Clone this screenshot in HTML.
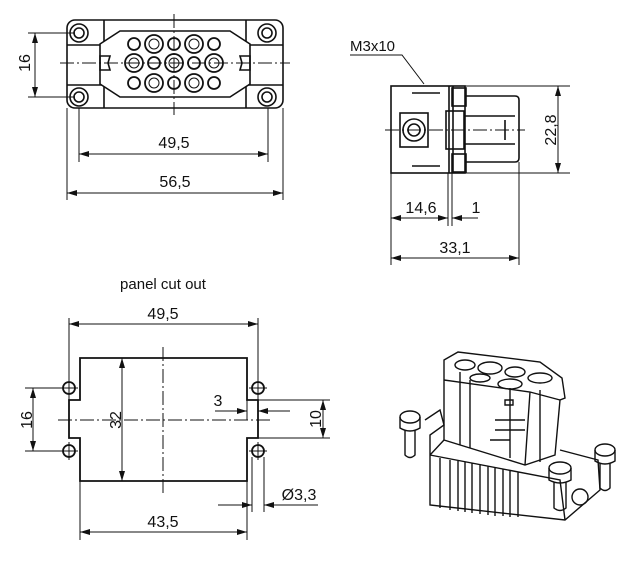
<!DOCTYPE html>
<html><head><meta charset="utf-8"><style>
html,body{margin:0;padding:0;background:#fff;}
svg{display:block;}
text{font-family:"Liberation Sans","DejaVu Sans",sans-serif;fill:#111;}
</style></head><body>
<svg width="628" height="574" viewBox="0 0 628 574" xmlns="http://www.w3.org/2000/svg">
<defs>
<marker id="a" viewBox="0 0 10 6" refX="10" refY="3" markerWidth="10" markerHeight="6" orient="auto-start-reverse" markerUnits="userSpaceOnUse"><path d="M0,0 L10,3 L0,6z" fill="#111"/></marker>
</defs>
<g stroke="#111" fill="none">
<!-- ===== Front view ===== -->
<g stroke-width="1.6">
<rect x="67" y="20" width="216" height="88" rx="8"/>
<path d="M67,45 H283 M67,85 H283 M104,20 V45 M246,20 V45 M104,85 V108 M246,85 V108"/>
<circle cx="79" cy="33" r="9"/><circle cx="267" cy="33" r="9"/>
<circle cx="79" cy="97" r="9"/><circle cx="267" cy="97" r="9"/>
<circle cx="79" cy="33" r="5"/><circle cx="267" cy="33" r="5"/>
<circle cx="79" cy="97" r="5"/><circle cx="267" cy="97" r="5"/>
<path d="M100,44 L120,31 H230 L250,44 V84 L230,97 H120 L100,84 Z" fill="#fff"/>
<path d="M100,56 H110 L108,63 L110,70 H100 Z M250,56 H240 L242,63 L240,70 H250 Z"/>
</g>
<g stroke-width="1.8">
<circle cx="134" cy="44" r="6"/><circle cx="154" cy="44" r="9"/><circle cx="174" cy="44" r="6"/><circle cx="194" cy="44" r="9"/><circle cx="214" cy="44" r="6"/>
<circle cx="134" cy="63" r="9"/><circle cx="154" cy="63" r="6"/><circle cx="174" cy="63" r="9"/><circle cx="194" cy="63" r="6"/><circle cx="214" cy="63" r="9"/>
<circle cx="134" cy="83" r="6"/><circle cx="154" cy="83" r="9"/><circle cx="174" cy="83" r="6"/><circle cx="194" cy="83" r="9"/><circle cx="214" cy="83" r="6"/>
</g>
<g stroke-width="1">
<circle cx="154" cy="44" r="5"/><circle cx="194" cy="44" r="5"/><circle cx="134" cy="63" r="5"/><circle cx="174" cy="63" r="5"/><circle cx="214" cy="63" r="5"/><circle cx="154" cy="83" r="5"/><circle cx="194" cy="83" r="5"/>
<path d="M174,14 V115" stroke-dasharray="14,3,2,3"/>
<path d="M60,63 H290" stroke-dasharray="14,3,2,3"/>
<path d="M28,33 H75 M28,97 H75"/>
<path d="M35,33 V97" marker-start="url(#a)" marker-end="url(#a)"/>
<path d="M79,108 V162 M268,108 V162 M67,108 V200 M283,108 V200"/>
<path d="M79,154 H268" marker-start="url(#a)" marker-end="url(#a)"/>
<path d="M67,193 H283" marker-start="url(#a)" marker-end="url(#a)"/>
</g>
<!-- ===== Side view ===== -->
<g stroke-width="1.6">
<rect x="391" y="86" width="74" height="87"/>
<path d="M465,96 H515 Q519,96 519,100 V158 Q519,162 515,162 H465"/>
<path d="M449,86 V173 M453,86 V173"/>
<rect x="400" y="113" width="28" height="34"/>
<circle cx="414" cy="130" r="11"/>
<circle cx="414" cy="130" r="6"/>
<rect x="446" y="111" width="18" height="38"/>
<path d="M412,93 H440 M412,166 H440 M465,116 H515 M465,144 H515 M505,120 V140"/>
<rect x="452" y="88" width="14" height="18"/><rect x="452" y="154" width="14" height="18"/>
</g>
<g stroke-width="1">
<path d="M385,130 H525" stroke-dasharray="14,3,2,3"/>
<path d="M350,55 H402 L424,84"/>
<path d="M465,86 H570 M465,173 H570"/>
<path d="M558,86 V173" marker-start="url(#a)" marker-end="url(#a)"/>
<path d="M391,173 V265 M519,162 V265 M448,173 V226 M452,173 V226"/>
<path d="M391,218 H448" marker-start="url(#a)" marker-end="url(#a)"/>
<path d="M452,218 H478" marker-start="url(#a)"/>
<path d="M391,258 H519" marker-start="url(#a)" marker-end="url(#a)"/>
</g>
<!-- ===== Panel cutout ===== -->
<path stroke-width="1.8" d="M80,358 H247 V400 H258 V438 H247 V481 H80 V438 H69 V400 H80 Z"/>
<g stroke-width="1.8" fill="#fff">
<circle cx="69" cy="388" r="6"/><circle cx="69" cy="451" r="6"/><circle cx="258" cy="388" r="6"/><circle cx="258" cy="451" r="6"/>
</g>
<g stroke-width="1">
<path d="M163,347 V495 M58,420 H270" stroke-dasharray="14,3,2,3"/>
<path d="M60,388 H78 M69,379 V397 M60,451 H78 M69,442 V460 M249,388 H267 M258,379 V397 M249,451 H267 M258,442 V460"/>
<path d="M69,318 V400 M258,318 V400"/>
<path d="M69,324 H258" marker-start="url(#a)" marker-end="url(#a)"/>
<path d="M25,388 H62 M25,451 H62"/>
<path d="M33,388 V451" marker-start="url(#a)" marker-end="url(#a)"/>
<path d="M122,358 V481" marker-start="url(#a)" marker-end="url(#a)"/>
<path d="M258,400 H330 M258,438 H330"/>
<path d="M323,400 V438" marker-start="url(#a)" marker-end="url(#a)"/>
<path d="M247,400 V420 M258,400 V420"/>
<path d="M215,411 H247" marker-end="url(#a)"/>
<path d="M290,411 H258" marker-end="url(#a)"/>
<path d="M252,457 V512 M264,457 V512"/>
<path d="M218,505 H252" marker-end="url(#a)"/>
<path d="M318,505 H264" marker-end="url(#a)"/>
<path d="M80,481 V540 M247,481 V540"/>
<path d="M80,532 H247" marker-start="url(#a)" marker-end="url(#a)"/>
</g>
<!-- ===== 3D view ===== -->
<g stroke-width="1.4">
<path d="M444,360 L458,352 L540,362 L562,378 L565,398 L560,400 L555,455 L525,465 L444,440 Z"/>
<path d="M444,380 L530,392 L560,400 M530,392 L525,465 M460,372 V445 M540,390 V462 M470,380 V448 M510,388 V458"/>
<ellipse cx="465" cy="365" rx="10" ry="5"/><ellipse cx="490" cy="368" rx="12" ry="6"/><ellipse cx="515" cy="372" rx="10" ry="5"/><ellipse cx="540" cy="378" rx="12" ry="5"/><ellipse cx="480" cy="378" rx="10" ry="4"/><ellipse cx="510" cy="384" rx="12" ry="5"/>
<path d="M425,420 L440,410 L444,425 L430,435 L430,470 M444,440 L430,455 L430,505 L565,520 L600,490 L598,460 L560,450"/>
<path d="M430,455 L560,480 L565,520 M440,458 V508 M450,460 V510 M458,461 V511 M465,462 V512 M472,463 V513 M480,465 V514 M488,466 V515 M495,468 V516 M503,469 V516 M510,471 V517 M518,472 V517"/>
<ellipse cx="410" cy="417" rx="10" ry="6"/><path d="M400,417 V428 Q410,434 420,428 V417 M405,430 V455 Q410,460 415,455 V430"/>
<ellipse cx="605" cy="450" rx="10" ry="6"/><path d="M595,450 V461 Q605,467 615,461 V450 M600,463 V488 Q605,493 610,488 V463"/>
<ellipse cx="560" cy="468" rx="11" ry="6"/><path d="M549,468 V480 Q560,486 571,480 V468 M554,482 V508 Q560,513 566,508 V482"/>
<circle cx="580" cy="497" r="8"/>
<path d="M505,400 h8 v5 h-8z M495,420 h30 M495,430 h30 M490,440 h20"/>
</g>
</g>
<!-- texts -->
<g font-size="16">
<text x="32" y="63" text-anchor="middle" transform="rotate(-90 32 63)" dy="-2">16</text>
<text x="174" y="148" text-anchor="middle">49,5</text>
<text x="175" y="187" text-anchor="middle">56,5</text>
<text x="350" y="51" font-size="15">M3x10</text>
<text x="551" y="130" text-anchor="middle" transform="rotate(-90 551 130)" dy="5">22,8</text>
<text x="421" y="213" text-anchor="middle">14,6</text>
<text x="476" y="213" text-anchor="middle">1</text>
<text x="455" y="253" text-anchor="middle">33,1</text>
<text x="163" y="289" text-anchor="middle" font-size="15">panel cut out</text>
<text x="163" y="319" text-anchor="middle">49,5</text>
<text x="27" y="420" text-anchor="middle" transform="rotate(-90 27 420)" dy="5">16</text>
<text x="116" y="420" text-anchor="middle" transform="rotate(-90 116 420)" dy="5">32</text>
<text x="316" y="419" text-anchor="middle" transform="rotate(-90 316 419)" dy="5">10</text>
<text x="218" y="406" text-anchor="middle">3</text>
<text x="299" y="500" text-anchor="middle">Ø3,3</text>
<text x="163" y="527" text-anchor="middle">43,5</text>
</g>
</svg>
</body></html>
